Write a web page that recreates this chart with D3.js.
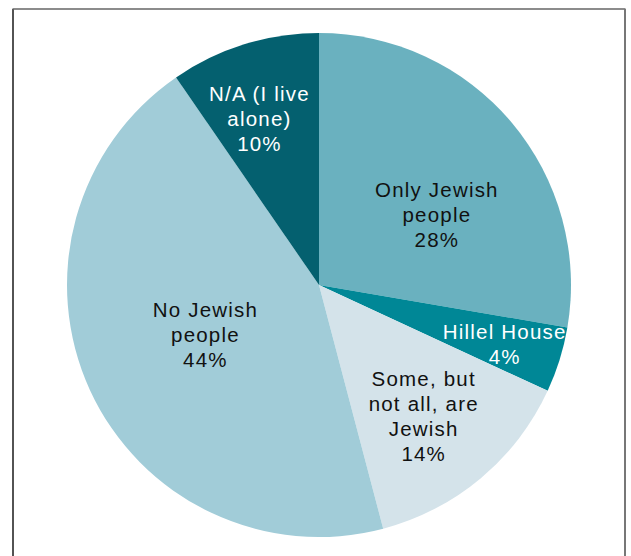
<!DOCTYPE html>
<html>
<head>
<meta charset="utf-8">
<script src="https://cdn.jsdelivr.net/npm/d3@7/dist/d3.min.js"></script>
<style>
  html, body { margin: 0; padding: 0; background: #fff; }
  svg { display: block; }
</style>
</head>
<body>
<svg id="chart" width="631" height="556"></svg>
<script>
// ---- data ----
const categories = ["Only Jewish people", "Hillel House", "Some, but not all, are Jewish", "No Jewish people", "N/A (I live alone)"];
const values = [27.7, 4.2, 14.0, 44.5, 9.6];
const percentLabels = ["28%", "4%", "14%", "44%", "10%"];
const labelLines = [
  ["Only Jewish", "people"],
  ["Hillel House"],
  ["Some, but", "not all, are", "Jewish"],
  ["No Jewish", "people"],
  ["N/A (I live", "alone)"]
];

// ---- style / layout ----
const colors = ["#6AB1BF", "#008796", "#D4E3EA", "#A1CCD8", "#04606F"];
const textColors = ["#111", "#fff", "#111", "#111", "#fff"];
const labelRadius = [137, 195, 168, 124, 176];
const labelAngleNudge = [9.5, 0.5, 1.4, 1.0, -2.5]; // degrees
const cx = 319, cy = 285, R = 252;
const lineH = 25;

const svg = d3.select("#chart");

// frame
svg.append("line").attr("x1", 13).attr("y1", 9).attr("x2", 13).attr("y2", 556)
  .attr("stroke", "#1a1a1a").attr("stroke-width", 1.5);
svg.append("line").attr("x1", 12.5).attr("y1", 9).attr("x2", 625.5).attr("y2", 9)
  .attr("stroke", "#666").attr("stroke-width", 1.5);
svg.append("line").attr("x1", 625).attr("y1", 9).attr("x2", 625).attr("y2", 556)
  .attr("stroke", "#777").attr("stroke-width", 2);

const pie = d3.pie().sort(null).value(d => d);
const arcs = pie(values);
const arc = d3.arc().innerRadius(0).outerRadius(R);

const g = svg.append("g").attr("transform", `translate(${cx},${cy})`);
g.selectAll("path.slice").data(arcs).join("path")
  .attr("class", "slice")
  .attr("d", arc)
  .attr("fill", (d, i) => colors[i]);

const labels = g.selectAll("text.lbl").data(arcs).join("text")
  .attr("class", "lbl")
  .attr("text-anchor", "middle")
  .attr("font-family", "'Liberation Sans', Arial, Helvetica, sans-serif")
  .attr("font-size", "20.5px")
  .attr("letter-spacing", "1.2px")
  .attr("fill", (d, i) => textColors[i])
  .each(function(d, i) {
    const a = (d.startAngle + d.endAngle) / 2 + labelAngleNudge[i] * Math.PI / 180;
    const x = labelRadius[i] * Math.sin(a);
    const y = -labelRadius[i] * Math.cos(a);
    const lines = labelLines[i].concat([percentLabels[i]]);
    const n = lines.length;
    const firstBaseline = y + 7 - (n - 1) * lineH / 2;
    const t = d3.select(this);
    lines.forEach((ln, k) => {
      t.append("tspan").attr("x", x).attr("y", firstBaseline + k * lineH).text(ln);
    });
  });
</script>
</body>
</html>
